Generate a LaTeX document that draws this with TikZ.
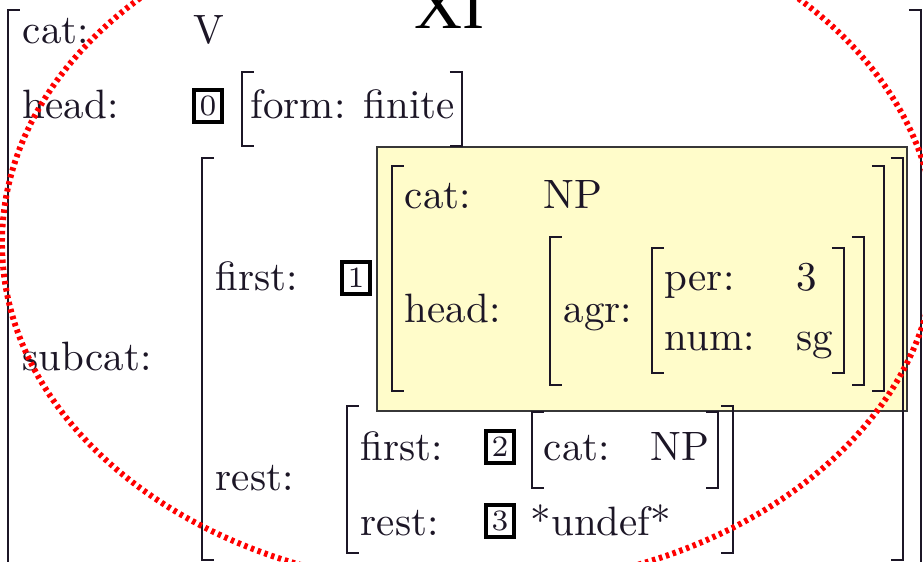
\documentclass[tikz,border=0pt]{standalone}
\usepackage{fontspec}
\newfontfamily\titlefont{Liberation Serif}
\definecolor{ink}{RGB}{28,22,38}
\definecolor{notefill}{RGB}{255,252,202}
\definecolor{noteedge}{RGB}{55,55,55}
% square brackets of the feature structure: x, top, bottom
\newcommand\openbrk[3]{\draw[brk] (#1+12,#2) -- (#1,#2) -- (#1,#3) -- (#1+12,#3);}
\newcommand\closebrk[3]{\draw[brk] (#1-12,#2) -- (#1,#2) -- (#1,#3) -- (#1-12,#3);}
\begin{document}
\begin{tikzpicture}[x=0.2439pt,y=-0.2439pt,
  lbl/.style={anchor=base west,inner sep=0pt,text=ink,font=\fontsize{10}{12}\selectfont},
  tagbox/.style={draw=black,line width=1pt,inner sep=0pt,minimum width=7pt,
    minimum height=7.6pt,text=ink,font=\fontsize{7.2}{8}\selectfont},
  brk/.style={draw=ink,line width=0.6pt,line join=miter},
  note/.style={fill=notefill,draw=noteedge,line width=0.4pt},
  ring/.style={draw=red,line width=1.45pt,dash pattern=on 0.85pt off 0.9pt}]
\useasboundingbox (0,0) rectangle (923,562);
\clip (0,0) rectangle (923,562);

% highlighted value of subcat|first
\draw[note] (377,147) rectangle (907,411);

% title
\node[anchor=base west,inner sep=0pt,font=\titlefont\fontsize{16.2}{19}\selectfont] (title) at (414,28) {XI};

% outer structure
\openbrk{8}{10}{580}
\closebrk{921}{10}{580}
\node[lbl] (cat) at (22,43) {cat:};
\node[lbl] (catv) at (193,43) {V};
\node[lbl] (head) at (22,118) {head:};
\node[tagbox] (t0) at (208,106) {0};
\openbrk{242}{72}{146}
\node[lbl] (form) at (250,118) {form: finite};
\closebrk{462}{72}{146}
\node[lbl] (subcat) at (22,370) {subcat:};

% subcat list
\openbrk{202}{158}{560}
\closebrk{903}{158}{560}
\node[lbl] (first) at (215,290) {first:};
\node[tagbox] (t1) at (356,278) {1};
\node[lbl] (rest) at (215,490) {rest:};

% first element: NP
\openbrk{392}{166}{391}
\closebrk{884}{166}{391}
\node[lbl] (npcat) at (404,208) {cat:};
\node[lbl] (npcatv) at (543,208) {NP};
\node[lbl] (nphead) at (404,322) {head:};
\openbrk{550}{237}{385}
\closebrk{864}{237}{385}
\node[lbl] (agr) at (563,322) {agr:};
\openbrk{652}{248}{373}
\closebrk{844}{248}{373}
\node[lbl] (per) at (664,290) {per:};
\node[lbl] (perv) at (796,290) {3};
\node[lbl] (num) at (664,350) {num:};
\node[lbl] (numv) at (796,350) {sg};

% rest of the list
\openbrk{347}{406}{553}
\closebrk{733}{406}{553}
\node[lbl] (rfirst) at (360,460) {first:};
\node[tagbox] (t2) at (500,447) {2};
\openbrk{532}{412}{488}
\node[lbl] (rcat) at (543,460) {cat:};
\node[lbl] (rcatv) at (650,460) {NP};
\closebrk{718}{412}{488}
\node[lbl] (rrest) at (360,535) {rest:};
\node[tagbox] (t3) at (500,521) {3};
\node[lbl] (undef) at (530,535) {*undef*};

% dotted ring on top
\draw[ring] (469,243) ellipse [x radius=467, y radius=345];
\end{tikzpicture}
\end{document}
